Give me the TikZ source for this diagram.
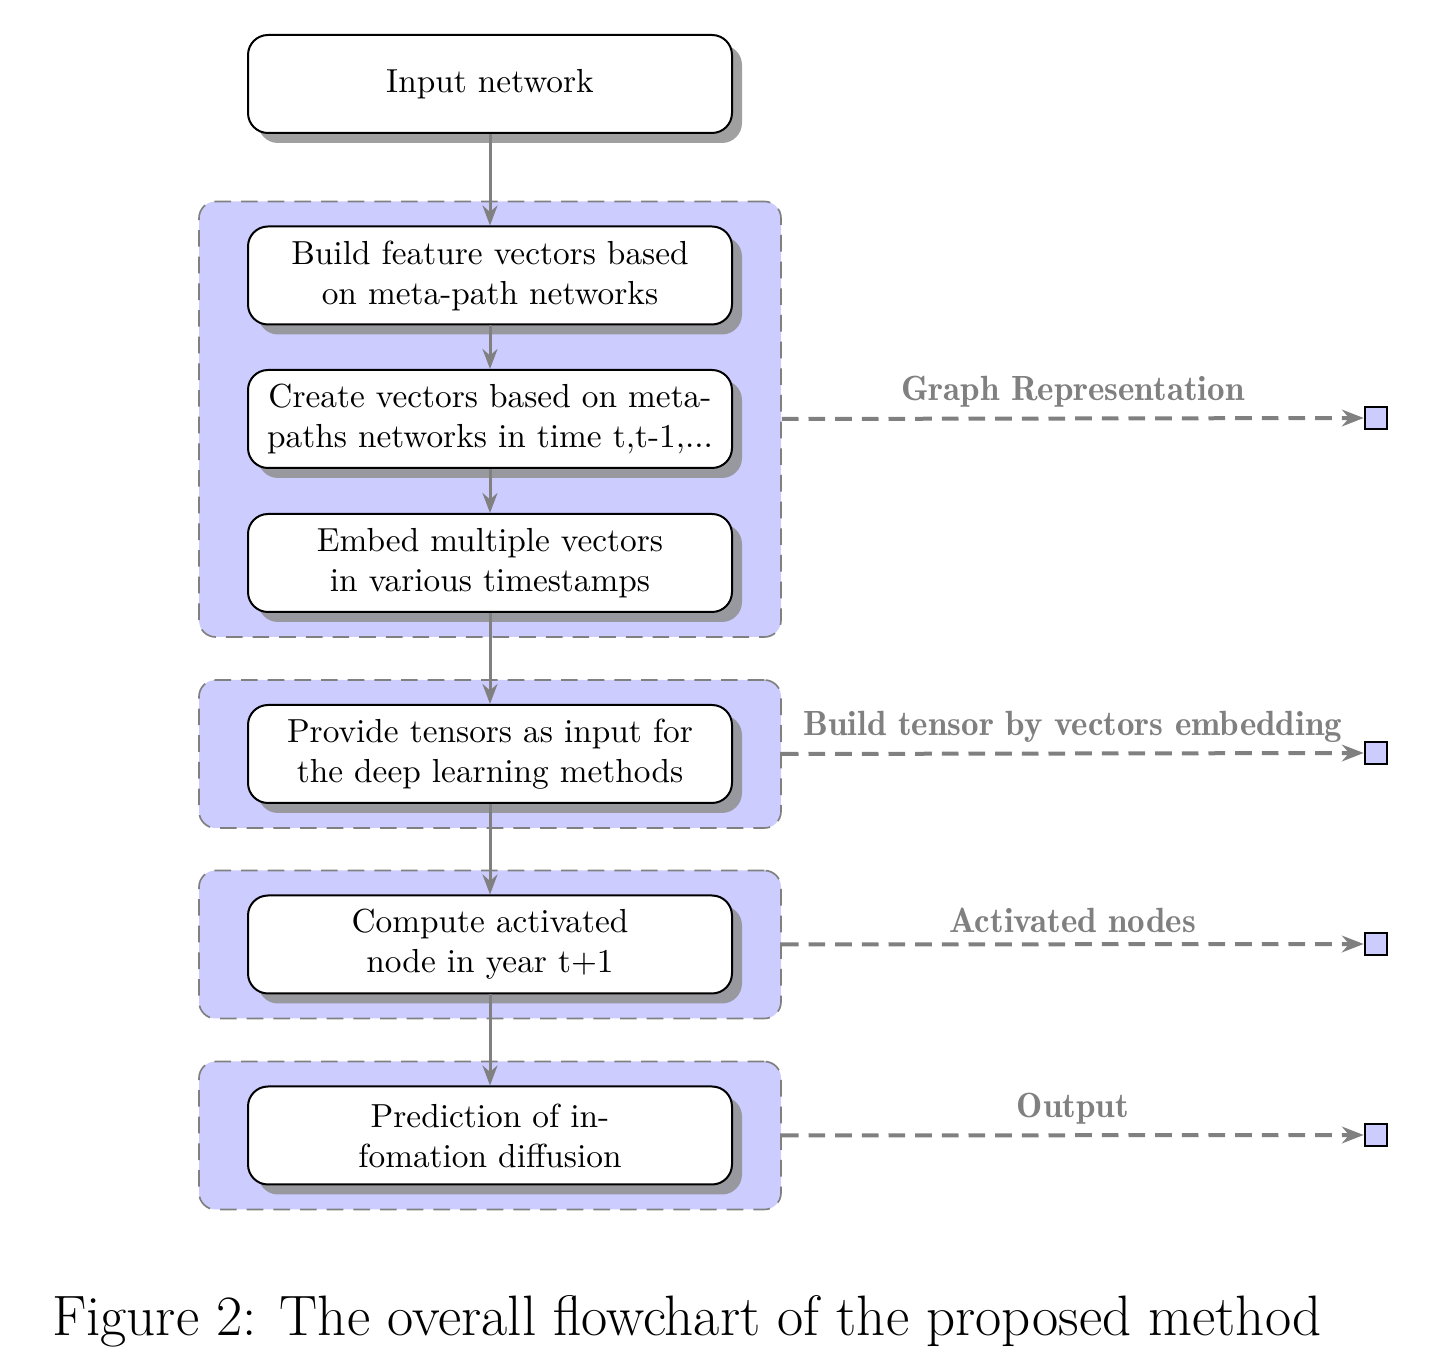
\documentclass[tikz,border=0pt]{standalone}
\usepackage{fontspec}
\newfontfamily\labeldemi{lmromandemi10-regular.otf}
\usetikzlibrary{shadows,fit,backgrounds,arrows.meta}
\begin{document}
\begin{tikzpicture}[x=0.3pt,y=-0.3pt,
  stepbox/.style={rectangle, rounded corners=6pt, draw=black, line width=0.6pt, fill=white,
    minimum width=145.2pt, minimum height=29.4pt, align=center, font=\fontsize{10}{12}\selectfont,
    drop shadow={shadow xshift=3pt, shadow yshift=-3pt, fill=black!44, opacity=0.85}},
  group/.style={rectangle, rounded corners=5pt, draw=gray, dash pattern=on 5pt off 3pt,
    line width=0.5pt, fill=blue!20, inner xsep=14.4pt, inner ysep=7.2pt},
  flow/.style={draw=gray, line width=0.9pt, -{Stealth[length=6pt,width=4.5pt]}},
  side/.style={draw=gray, line width=1.2pt, dash pattern=on 5pt off 3pt, -{Stealth[length=6.5pt,width=5pt]}},
  endsq/.style={rectangle, draw=black, line width=0.8pt, fill=blue!20, minimum size=6.6pt, inner sep=0pt},
  sidelabel/.style={text=gray, font=\fontsize{10.5}{12}\labeldemi, inner sep=2.8pt}
]
\useasboundingbox (0,0) rectangle (1452,1366);

\node[stepbox] (in) at (490,84) {Input network};
\node[stepbox] (b1) at (490,275.5) {Build feature vectors based\\on meta-path networks};
\node[stepbox] (b2) at (490,419) {Create vectors based on meta-\\paths networks in time t,t-1,...};
\node[stepbox] (b3) at (490,563) {Embed multiple vectors\\in various timestamps};
\node[stepbox] (b4) at (490,754) {Provide tensors as input for\\the deep learning methods};
\node[stepbox] (b5) at (490,944.5) {Compute activated\\node in year t+1};
\node[stepbox] (b6) at (490,1135.5) {Prediction of in-\\fomation diffusion};

\begin{scope}[on background layer]
\node[group, fit=(b1)(b3)] (g1) {};
\node[group, fit=(b4)] (g2) {};
\node[group, fit=(b5)] (g3) {};
\node[group, fit=(b6)] (g4) {};
\end{scope}

\draw[flow] (in) -- (b1);
\draw[flow] (b1) -- (b2);
\draw[flow] (b2) -- (b3);
\draw[flow] (b3) -- (b4);
\draw[flow] (b4) -- (b5);
\draw[flow] (b5) -- (b6);

\node[endsq] (s1) at (1376,418) {};
\node[endsq] (s2) at (1376,753) {};
\node[endsq] (s3) at (1376,944) {};
\node[endsq] (s4) at (1376,1135) {};

\draw[side] (g1.east |- b2.center) -- (s1.west) node[midway, above, sidelabel] {Graph Representation};
\draw[side] (g2.east |- b4.center) -- (s2.west) node[midway, above, sidelabel] {Build tensor by vectors embedding};
\draw[side] (g3.east |- b5.center) -- (s3.west) node[midway, above, sidelabel] {Activated nodes};
\draw[side] (g4.east |- b6.center) -- (s4.west) node[midway, above, sidelabel] {Output};

\node[anchor=base, font=\fontsize{17.1}{20}\selectfont] (cap) at (687,1336) {Figure 2: The overall flowchart of the proposed method};
\end{tikzpicture}
\end{document}
